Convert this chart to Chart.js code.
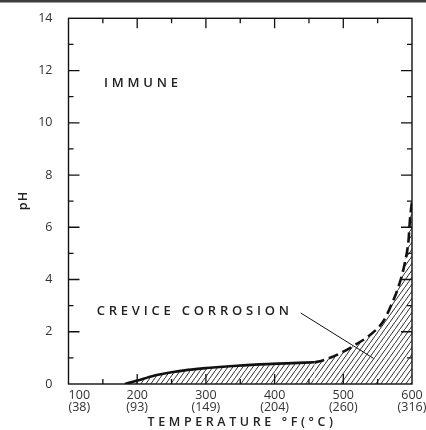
<!DOCTYPE html>
<html><head><meta charset="utf-8">
<script src="https://cdn.jsdelivr.net/npm/chart.js@4"></script>
<style>html,body{margin:0;padding:0;background:#fff;}#wrap{width:426px;height:430px;position:relative}</style>
</head><body><div id="wrap"><canvas id="c" width="426" height="430"></canvas></div>
<script>
// ---- data ----
const solidTempF = [182, 200, 223, 250, 274, 301, 340, 378, 417, 458];
const solidPH    = [0, 0.13, 0.31, 0.45, 0.54, 0.61, 0.69, 0.75, 0.79, 0.83];
const dashedTempF = [458, 469, 495, 517, 539, 558, 570, 582, 590, 595, 597, 600];
const dashedPH    = [0.83, 0.89, 1.17, 1.49, 1.88, 2.39, 3.03, 3.86, 4.69, 5.52, 6.28, 7.0];
const leaderTempF = [438, 544];
const leaderPH    = [2.72, 0.98];
const xTickF = [100, 200, 300, 400, 500, 600];
const xTickC = ['(38)', '(93)', '(149)', '(204)', '(260)', '(316)'];
const yTickValues = [0, 2, 4, 6, 8, 10, 12, 14];
const xTitle = 'TEMPERATURE °F(°C)';
const yTitle = 'pH';
const regionLabels = ['IMMUNE', 'CREVICE CORROSION'];
const regionAnchorF = [151.5, 141];
const regionAnchorPH = [11.52, 2.77];

const FONT = "'Open Sans', 'Noto Sans', sans-serif";

function hatch() {
  const c = document.createElement('canvas');
  c.width = 5; c.height = 7;
  const g = c.getContext('2d');
  g.strokeStyle = '#1a1a1a';
  g.lineWidth = 0.9;
  g.beginPath();
  g.moveTo(-1, 8.4); g.lineTo(6, -1.4);
  g.stroke();
  return g.createPattern(c, 'repeat');
}
const pat = hatch();

const zip = (xs, ys) => xs.map((x, i) => ({x, y: ys[i]}));

const decor = {
  id: 'decor',
  afterDraw(chart) {
    const ctx = chart.ctx, a = chart.chartArea;
    const xs = chart.scales.x, ys = chart.scales.y;
    ctx.save();
    // top rule
    ctx.fillStyle = '#3d3d3d';
    ctx.fillRect(0, 0, 426, 2.5);
    // frame
    ctx.strokeStyle = '#111';
    ctx.lineWidth = 1.4;
    ctx.strokeRect(a.left, a.top, a.right - a.left, a.bottom - a.top);
    // inward ticks
    ctx.lineWidth = 1.3;
    ctx.beginPath();
    for (let v = xs.min + 50; v < xs.max; v += 50) {
      const p = xs.getPixelForValue(v);
      const len = (v % 100 === 0) ? 10 : 5;
      ctx.moveTo(p, a.top); ctx.lineTo(p, a.top + len);
      ctx.moveTo(p, a.bottom); ctx.lineTo(p, a.bottom - len);
    }
    for (let v = ys.min + 1; v < ys.max; v += 1) {
      const p = ys.getPixelForValue(v);
      const len = (v % 2 === 0) ? 11 : 5;
      ctx.moveTo(a.left, p); ctx.lineTo(a.left + len, p);
      ctx.moveTo(a.right, p); ctx.lineTo(a.right - len, p);
    }
    ctx.stroke();
    // x tick labels (°F over °C)
    ctx.fillStyle = '#333';
    ctx.font = '12.5px ' + FONT;
    ctx.textAlign = 'center';
    ctx.textBaseline = 'middle';
    xTickF.forEach((f, i) => {
      const l1 = String(f), l2 = xTickC[i];
      const w = Math.max(ctx.measureText(l1).width, ctx.measureText(l2).width);
      let p = xs.getPixelForValue(f);
      p = Math.max(p, a.left + w / 2);
      ctx.fillText(l1, p, a.bottom + 11);
      ctx.fillText(l2, p, a.bottom + 23);
    });
    // spaced text helper
    function spaced(text, x, y, ls, align) {
      ctx.letterSpacing = ls + 'px';
      const w = ctx.measureText(text).width - ls;
      ctx.textAlign = 'left';
      const x0 = align === 'center' ? x - w / 2 : x;
      ctx.fillText(text, x0, y);
      ctx.letterSpacing = '0px';
    }
    ctx.fillStyle = '#222';
    ctx.font = '600 12.5px ' + FONT;
    spaced(xTitle, (a.left + a.right) / 2, 422, 3.6, 'center');
    ctx.save();
    ctx.translate(23, (a.top + a.bottom) / 2);
    ctx.rotate(-Math.PI / 2);
    spaced(yTitle, 0, 0, 1.2, 'center');
    ctx.restore();
    ctx.font = '600 13px ' + FONT;
    regionLabels.forEach((t, i) => {
      spaced(t, xs.getPixelForValue(regionAnchorF[i]), ys.getPixelForValue(regionAnchorPH[i]), 3.8, 'left');
    });
    ctx.restore();
  }
};

new Chart(document.getElementById('c'), {
  type: 'line',
  data: {
    datasets: [
      { data: zip(solidTempF, solidPH), borderColor: '#111', borderWidth: 2.6,
        pointRadius: 0, fill: 'origin', backgroundColor: pat, cubicInterpolationMode: 'monotone' },
      { data: zip(dashedTempF, dashedPH), borderColor: '#111', borderWidth: 2.6, borderDash: [10, 5],
        pointRadius: 0, fill: 'origin', backgroundColor: pat, cubicInterpolationMode: 'monotone' },
      { data: zip(leaderTempF, leaderPH), borderColor: '#111', borderWidth: 1,
        pointRadius: 0, fill: false, tension: 0 }
    ]
  },
  options: {
    responsive: false, animation: false, devicePixelRatio: 1,
    layout: { padding: { top: 18.3, right: 14, left: 0, bottom: 0 } },
    plugins: { legend: { display: false }, tooltip: { enabled: false } },
    scales: {
      x: { type: 'linear', min: 100, max: 600,
        ticks: { display: false, stepSize: 100 },
        grid: { display: false }, border: { display: false },
        afterFit(s) { s.height = 46; } },
      y: { type: 'linear', min: 0, max: 14,
        afterBuildTicks(s) { s.ticks = yTickValues.map(v => ({value: v})); },
        ticks: { color: '#333', font: { family: FONT, size: 12.5 }, padding: 8 },
        grid: { display: false }, border: { display: false },
        afterFit(s) { s.width = 68.5; } }
    }
  },
  plugins: [decor]
});
</script></body></html>
